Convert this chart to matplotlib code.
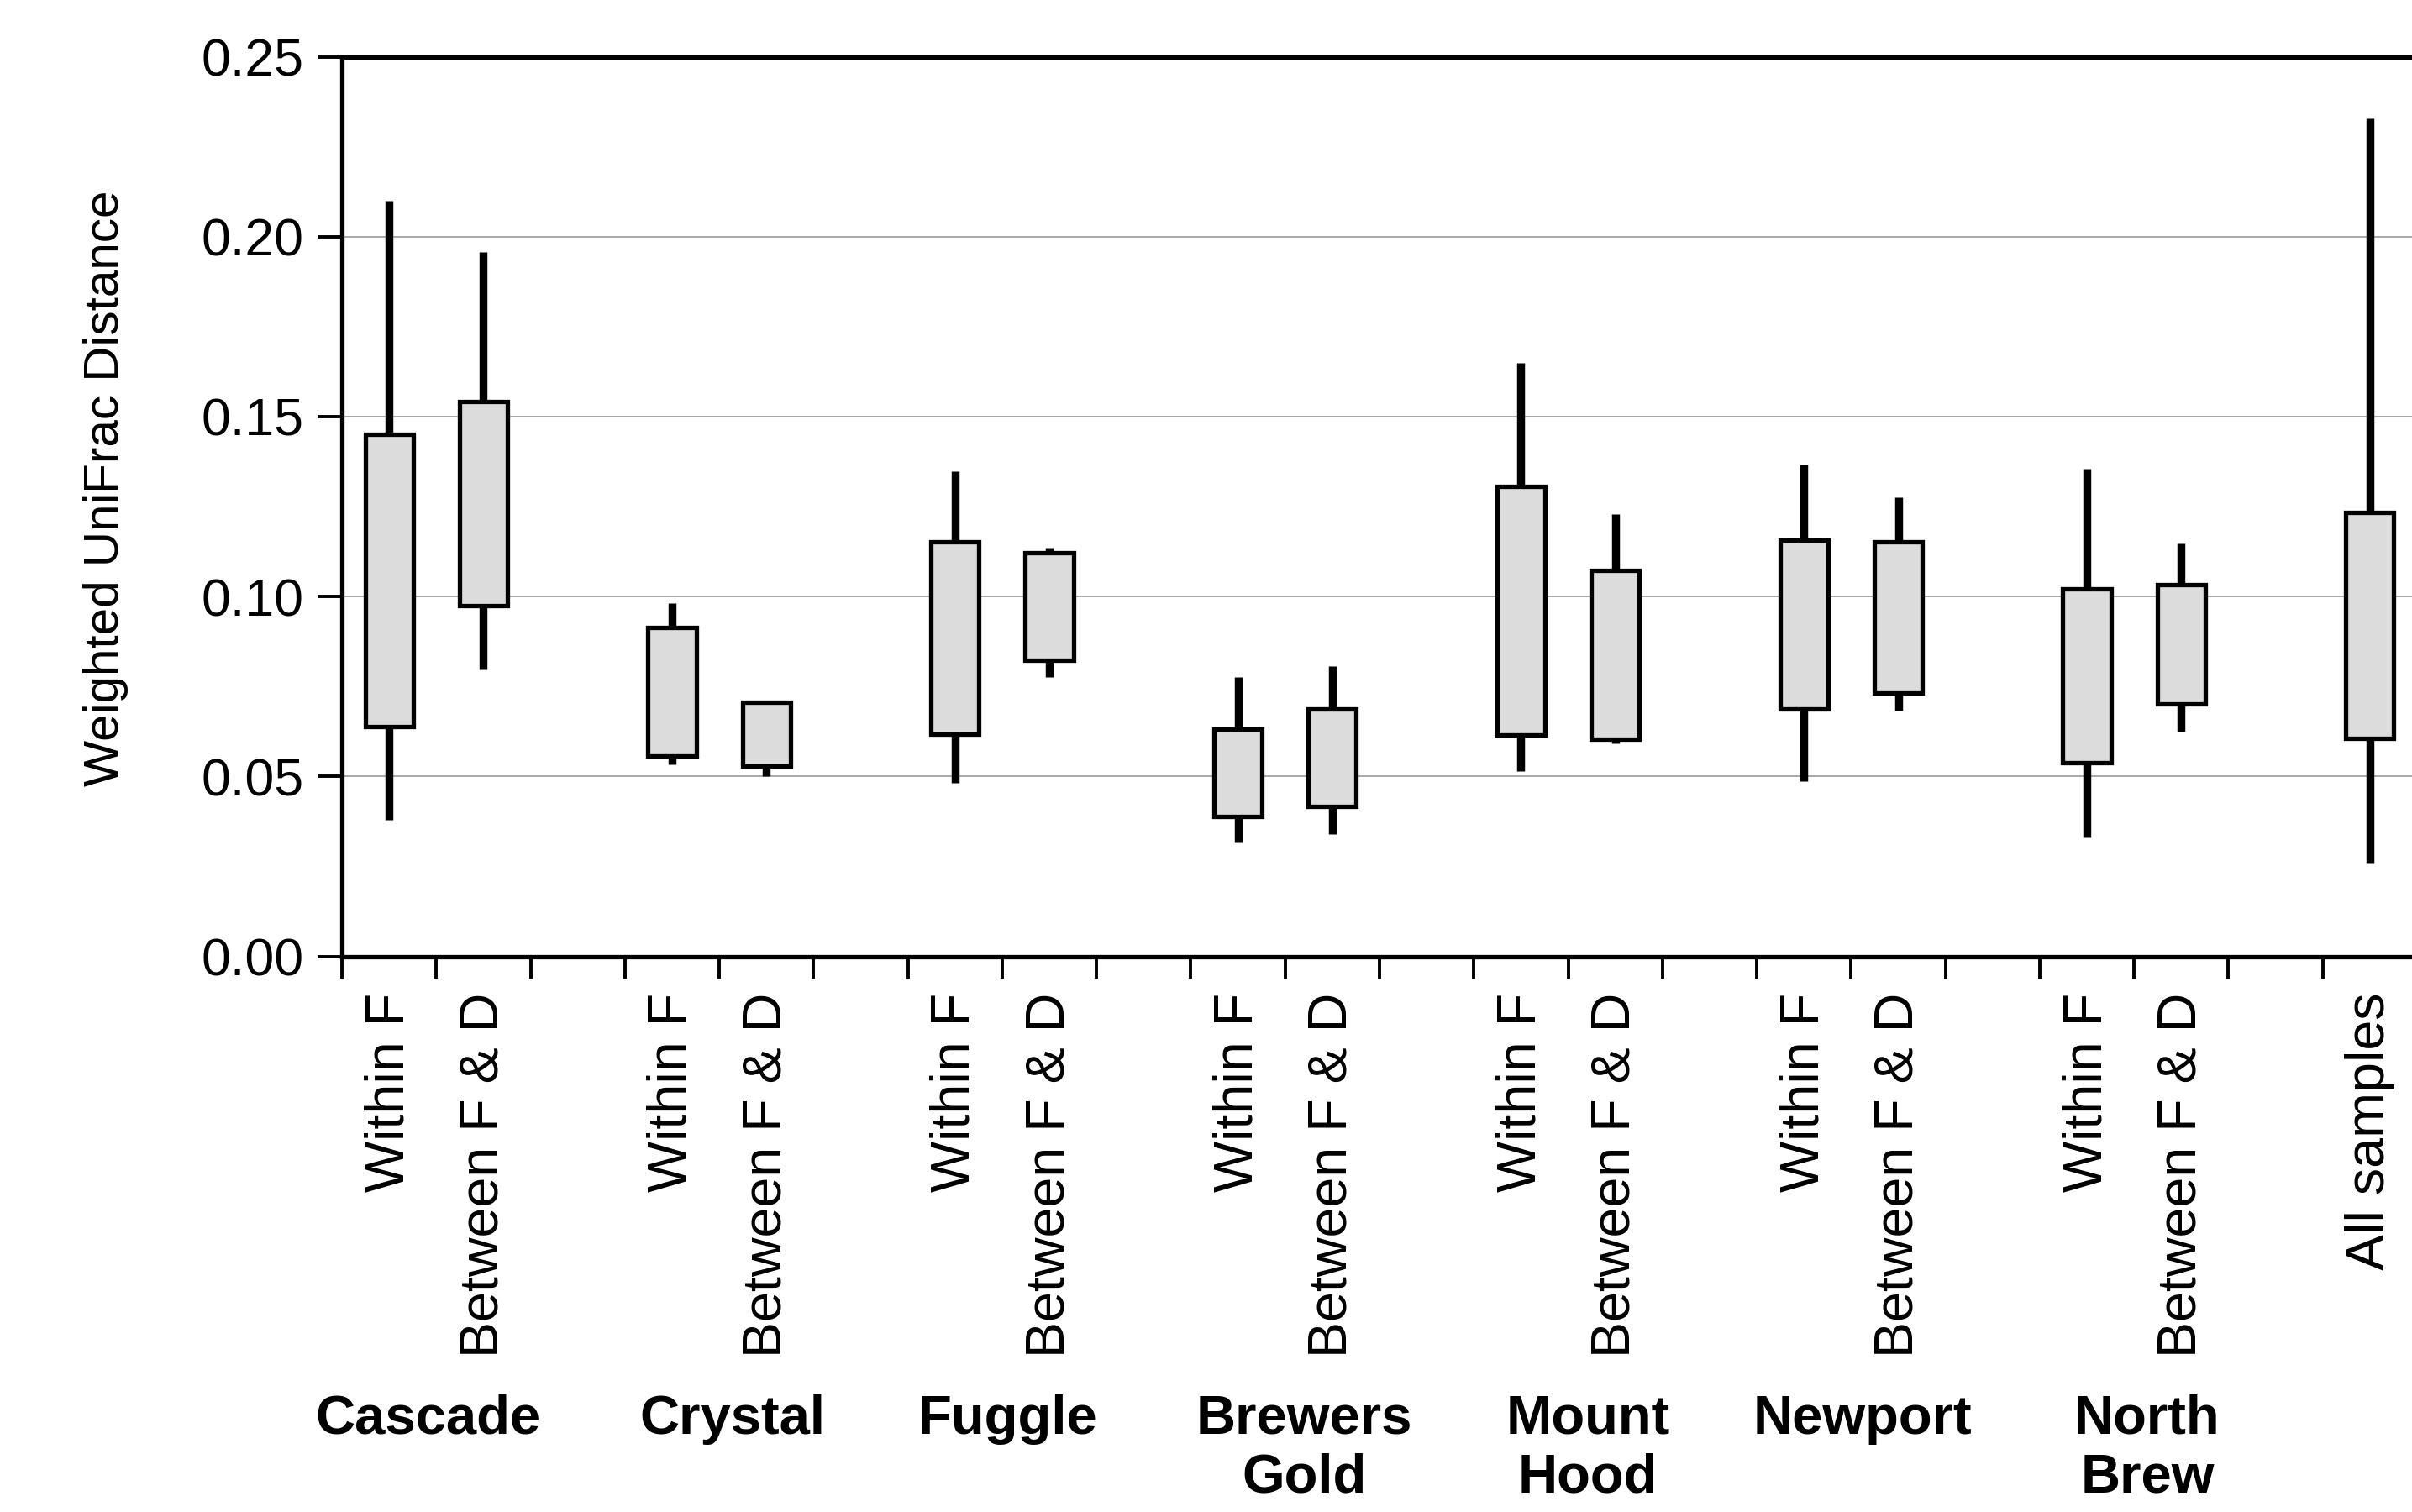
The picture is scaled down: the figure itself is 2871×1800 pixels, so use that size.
import matplotlib
matplotlib.use("Agg")
import matplotlib.pyplot as plt
from matplotlib.transforms import blended_transform_factory
import numpy as np

plt.rcParams['font.family'] = ['Liberation Sans', 'DejaVu Sans']

# Hop varieties and comparison types
groups = ["Cascade", "Crystal", "Fuggle", "Brewers\nGold", "Mount\nHood",
          "Newport", "North\nBrew"]
comparisons = ["Within F", "Between F & D"]
overall_label = "All samples"

# Distance ranges per box: [whisker low, box low, box high, whisker high]
# ordered Within F / Between F & D for each group, then all samples
whisker_low = [0.0379, 0.0797, 0.0533, 0.0502, 0.0482, 0.0777, 0.0318, 0.0340,
               0.0515, 0.0591, 0.0486, 0.0682, 0.0331, 0.0625, 0.0261]
box_low     = [0.0639, 0.0975, 0.0556, 0.0529, 0.0618, 0.0822, 0.0390, 0.0416,
               0.0615, 0.0604, 0.0688, 0.0732, 0.0538, 0.0702, 0.0607]
box_high    = [0.1452, 0.1543, 0.0913, 0.0706, 0.1152, 0.1122, 0.0631, 0.0688,
               0.1306, 0.1072, 0.1157, 0.1152, 0.1022, 0.1032, 0.1234]
whisker_high = [0.2100, 0.1957, 0.0982, 0.0706, 0.1347, 0.1136, 0.0777, 0.0806,
                0.1650, 0.1229, 0.1366, 0.1275, 0.1354, 0.1148, 0.2329]

y_ticks = [0.00, 0.05, 0.10, 0.15, 0.20, 0.25]
y_label = "Weighted UniFrac Distance"

# Slot layout: two boxes per group followed by an empty slot, then the overall box
slots = []
labels = []
for g in range(len(groups)):
    slots += [3 * g, 3 * g + 1]
    labels += comparisons
slots.append(3 * len(groups))
labels.append(overall_label)
centers = np.array(slots) + 0.5
n_slots = 3 * len(groups) + 1

# horizontal nudge of each group caption relative to its pair of boxes
caption_shift = [-0.09, 0.14, 0.06, 0.2, 0.21, 0.12, 0.14]

W, H = 2871, 1800
fig = plt.figure(figsize=(W / 100, H / 100), dpi=100)
left_px, right_px, top_px, bottom_px = 407, 2877, 67.5, 1138.6
ax = fig.add_axes([left_px / W, 1 - bottom_px / H,
                   (right_px - left_px) / W, (bottom_px - top_px) / H])

ax.set_xlim(0, n_slots)
ax.set_ylim(0, 0.25)

# horizontal grid
ax.set_yticks(y_ticks)
ax.set_yticklabels([f"{v:.2f}" for v in y_ticks], fontsize=45)
ax.yaxis.grid(True, color="#a8a8a8", linewidth=1.4, zorder=0)
ax.set_axisbelow(True)

# whiskers, then boxes on top
ax.vlines(centers, whisker_low, whisker_high, color="black", linewidth=6.8,
          zorder=2, capstyle="butt")
ax.bar(centers, np.array(box_high) - np.array(box_low), bottom=box_low,
       width=0.51, color="#dcdcdc", edgecolor="black", linewidth=3.8, zorder=3)

# x ticks at slot boundaries, labels at slot centres
ax.set_xticks(np.arange(0, n_slots + 1))
ax.set_xticklabels([])
ax.set_xticks(centers, minor=True)
ax.set_xticklabels(labels, minor=True, rotation=90, fontsize=46.5,
                   va="top", ha="center")
ax.tick_params(axis="x", which="major", direction="out", length=19, width=2.8)
ax.tick_params(axis="x", which="minor", length=0, pad=31)
ax.tick_params(axis="y", which="major", direction="out", length=21, width=2.8,
               pad=12)

for side in ("left", "bottom", "top"):
    ax.spines[side].set_linewidth(3.8)
ax.spines["right"].set_visible(False)

ax.set_ylabel(y_label, fontsize=42)
ax.yaxis.set_label_coords(-0.103, 0.52)

# group names beneath the comparison labels
trans = blended_transform_factory(ax.transData, fig.transFigure)
for g, name in enumerate(groups):
    ax.text(3 * g + 1.0 + caption_shift[g], 0.078, name, transform=trans,
            ha="center", va="top", fontsize=47, fontweight="bold",
            linespacing=1.22)

fig.savefig("out.png", dpi=100)
